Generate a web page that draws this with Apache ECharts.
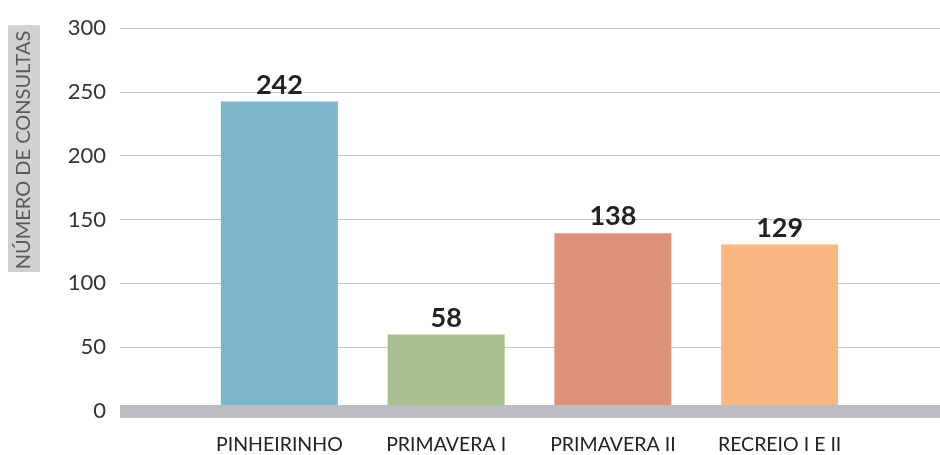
<!DOCTYPE html>
<html><head><meta charset="utf-8">
<script src="https://cdn.jsdelivr.net/npm/echarts@6/dist/echarts.min.js"></script>
<style>html,body{margin:0;padding:0;background:#fff}#c{width:940px;height:455px}</style>
</head><body><div id="c"></div>
<script>
const categories = ['PINHEIRINHO', 'PRIMAVERA I', 'PRIMAVERA II', 'RECREIO I E II'];
const values = [242, 58, 138, 129];
const barColors = ['#7db7cc', '#a8c08f', '#df927a', '#f9b781'];
const yTitle = 'NÚMERO DE CONSULTAS';
const yMax = 300, yStep = 50;

const chart = echarts.init(document.getElementById('c'));
const F = 'Lato, "Open Sans", sans-serif';
chart.setOption({
  animation: false,
  grid: [
    {left: 120, right: 0, top: 28, bottom: 44},
    {left: 196, right: 77, top: 28, bottom: 44}
  ],
  xAxis: [
    {gridIndex: 0, type: 'category', data: [''], axisTick: {show: false}, axisLabel: {show: false},
     axisLine: {show: true, lineStyle: {color: '#bcbdc0', width: 13, cap: 'butt'}}, z: 5},
    {gridIndex: 1, type: 'category', data: categories, axisTick: {show: false}, axisLine: {show: false},
     axisLabel: {color: '#222', fontFamily: F, fontSize: 19.5, margin: 27, interval: 0, hideOverlap: false}}
  ],
  yAxis: [
    {gridIndex: 0, type: 'value', min: 0, max: yMax, interval: yStep,
     axisLine: {show: false}, axisTick: {show: false},
     axisLabel: {color: '#333', fontFamily: F, fontSize: 22, margin: 14},
     splitLine: {lineStyle: {color: '#c8c8c8', width: 1}}},
    {gridIndex: 1, type: 'value', min: 0, max: yMax, interval: yStep, show: false}
  ],
  series: [{
    type: 'bar', xAxisIndex: 1, yAxisIndex: 1, barWidth: 117, z: 2,
    data: values.map((v, i) => ({value: v, itemStyle: {color: barColors[i]}})),
    label: {show: true, position: 'top', distance: 3, color: '#222', fontFamily: F,
            fontWeight: 'bold', fontSize: 27}
  }],
  graphic: [
    {type: 'rect', left: 8, top: 25, shape: {width: 32, height: 247}, style: {fill: '#d0d1d3'}},
    {type: 'text', x: 24, y: 150, rotation: Math.PI / 2,
     style: {text: yTitle, fill: '#5a5a5a', font: '20px ' + F, align: 'center', verticalAlign: 'middle'}}
  ]
});
</script></body></html>
